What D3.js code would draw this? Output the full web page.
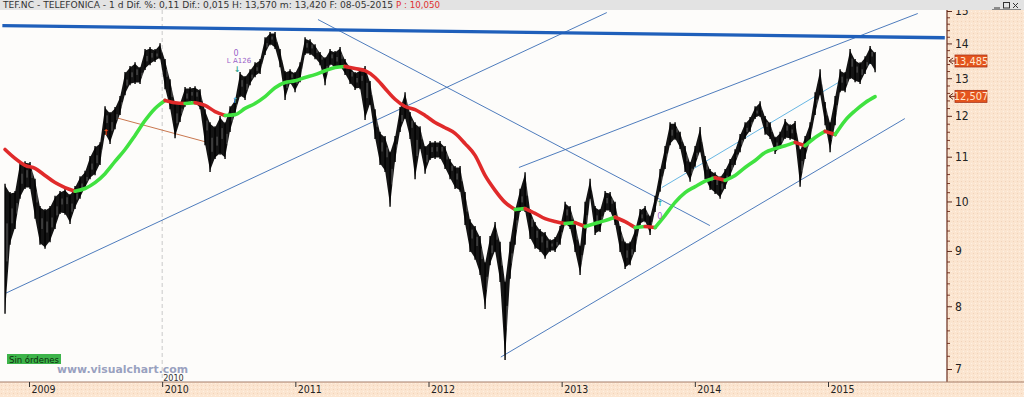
<!DOCTYPE html>
<html>
<head>
<meta charset="utf-8">
<title>TEF.NC - TELEFONICA</title>
<script src="https://cdnjs.cloudflare.com/ajax/libs/d3/7.6.1/d3.min.js"></script>
<style>
  html, body { margin: 0; padding: 0; background: #fdfcfa; overflow: hidden; }
  svg { display: block; }
  .narrow { font-family: 'Liberation Sans Narrow', 'DejaVu Sans Condensed', 'Liberation Sans', sans-serif; }
</style>
</head>
<body>
<svg id="chart" width="1024" height="397"></svg>
<script>
// price samples: one every ~2 weeks (high / low of each stretch)
const sampleStart = 2008.82;
const sampleStep = 0.03755;

const high = [
  10.35, 10.17, 10.19, 10.84, 10.86, 10.84, 10.46, 9.87, 9.81, 9.87,
  10.09, 10.19, 10.24, 10.13, 10.30, 10.52, 10.64, 10.98, 11.22, 11.31,
  12.21, 12.06, 12.19, 12.48, 13.13, 13.30, 13.41, 13.27, 13.79, 13.85,
  13.79, 13.96, 13.50, 12.93, 12.32, 12.32, 12.72, 12.72, 12.74, 12.66,
  12.13, 11.80, 11.70, 11.96, 11.80, 12.21, 12.40, 13.13, 13.02, 13.21,
  13.41, 13.50, 14.14, 14.30, 14.30, 13.79, 13.16, 13.21, 13.13, 13.41,
  14.14, 14.08, 13.93, 13.70, 13.55, 13.79, 13.73, 13.85, 13.50, 13.30,
  13.13, 13.21, 13.30, 12.88, 12.13, 11.56, 11.46, 11.08, 11.46, 12.19,
  12.58, 12.06, 11.80, 11.70, 11.22, 11.34, 11.34, 11.34, 11.22, 10.91,
  10.75, 10.75, 10.17, 9.60, 9.46, 9.26, 8.76, 9.26, 9.54, 9.15,
  8.40, 9.15, 9.81, 10.24, 10.61, 9.81, 9.54, 9.40, 9.34, 9.20,
  9.24, 9.46, 9.96, 9.87, 9.54, 9.07, 9.96, 10.46, 9.87, 9.81,
  10.19, 10.17, 9.96, 9.46, 9.15, 9.15, 9.40, 9.81, 9.87, 9.67,
  10.09, 10.68, 11.22, 11.80, 11.80, 11.56, 11.22, 10.84, 11.22, 11.68,
  10.98, 10.68, 10.61, 10.52, 10.68, 10.91, 11.14, 11.51, 11.80, 11.93,
  12.21, 12.34, 11.96, 11.80, 11.44, 11.56, 11.88, 11.75, 11.83, 11.14,
  11.46, 11.80, 12.58, 13.21, 12.32, 11.80, 12.48, 13.21, 13.13, 13.79,
  13.50, 13.41, 13.58, 13.88, 13.70
];

const low = [
  7.90, 9.15, 9.46, 10.09, 10.30, 10.30, 9.67, 9.15, 9.07, 9.20,
  9.46, 9.77, 9.75, 9.56, 9.87, 10.09, 10.30, 10.52, 10.61, 10.84,
  11.56, 11.34, 11.70, 12.06, 12.58, 12.85, 12.88, 12.88, 13.27, 13.41,
  13.50, 13.58, 12.74, 12.21, 11.48, 11.88, 12.27, 12.40, 12.34, 12.21,
  11.31, 10.68, 10.98, 11.08, 10.98, 11.63, 12.06, 12.53, 12.45, 12.85,
  13.07, 13.16, 13.70, 13.99, 13.88, 13.35, 12.45, 12.88, 12.66, 12.93,
  13.70, 13.70, 13.58, 13.41, 12.85, 13.41, 13.30, 13.35, 13.13, 12.88,
  12.72, 12.74, 11.93, 12.32, 11.46, 10.84, 10.68, 9.92, 10.91, 11.63,
  11.96, 11.46, 10.52, 11.22, 10.64, 10.96, 10.98, 10.98, 10.75, 10.52,
  10.30, 10.24, 9.54, 9.01, 8.86, 8.58, 7.98, 8.76, 9.01, 8.45,
  7.16, 8.51, 9.15, 9.81, 9.81, 9.26, 9.07, 9.01, 8.88, 9.01,
  9.01, 9.15, 9.54, 9.46, 9.01, 8.58, 9.15, 10.09, 9.34, 9.40,
  9.81, 9.81, 9.54, 9.01, 8.69, 8.76, 9.01, 9.54, 9.60, 9.34,
  9.81, 10.24, 10.75, 11.31, 11.44, 11.22, 10.68, 10.46, 10.80, 11.14,
  10.52, 10.28, 10.19, 10.09, 10.30, 10.57, 10.84, 11.14, 11.46, 11.63,
  11.96, 12.01, 11.56, 11.46, 11.10, 11.22, 11.46, 11.44, 11.39, 10.35,
  10.98, 11.39, 12.06, 12.58, 11.80, 11.14, 11.80, 12.66, 12.66, 13.02,
  12.93, 12.88, 13.16, 13.44, 13.21
];

// moving average, every second sample
const maValues = [
  11.17, 10.96, 10.80, 10.73, 10.57, 10.41, 10.30, 10.22, 10.28, 10.41,
  10.61, 10.89, 11.17, 11.51, 11.88, 12.19, 12.40, 12.34, 12.32, 12.34,
  12.27, 12.11, 12.01, 12.03, 12.19, 12.32, 12.50, 12.74, 12.88, 12.93,
  13.02, 13.10, 13.21, 13.30, 13.33, 13.27, 13.21, 13.02, 12.72, 12.43,
  12.24, 12.16, 12.01, 11.83, 11.70, 11.56, 11.31, 11.03, 10.57, 10.24,
  9.98, 9.83, 9.85, 9.75, 9.64, 9.58, 9.54, 9.56, 9.48, 9.54,
  9.60, 9.67, 9.58, 9.46, 9.48, 9.46, 9.71, 9.98, 10.19, 10.32,
  10.44, 10.52, 10.46, 10.57, 10.75, 10.91, 11.10, 11.19, 11.26, 11.34,
  11.26, 11.46, 11.61, 11.53, 11.88, 12.13, 12.34, 12.50
];

const yearTicks = [2009, 2010, 2011, 2012, 2013, 2014, 2015];
const priceTicks = [7, 8, 9, 10, 11, 12, 13, 14, 15];
const lastClose = 13.485;
const lastMa = 12.507;
const markerYear = 2010;

// drawn trend lines: [year, price] pairs
const resistance = [[2008.80, 14.54], [2015.877, 14.17]];
const longSupport = [[2008.82, 8.22], [2013.339, 14.95]];
const downTrend = [[2011.170, 14.73], [2014.113, 9.50]];
const channelTop = [[2012.679, 10.75], [2015.674, 14.92]];
const channelMid = [[2013.752, 10.30], [2015.329, 13.44]];
const channelBottom = [[2012.543, 7.18], [2015.577, 11.93]];
const shortLine = [[2009.646, 11.96], [2010.456, 11.24]];

// signal marks on the chart
const signals = [
  { t: 2009.578, p: 11.51, text: "\u2191", kind: "red" },
  { t: 2010.554, p: 13.64, text: "0", kind: "purple" },
  { t: 2010.577, p: 13.44, text: "L A126", kind: "purple" },
  { t: 2010.562, p: 13.18, text: "\u2193", kind: "teal" },
  { t: 2010.547, p: 12.32, text: "\u2191", kind: "cyan" },
  { t: 2013.737, p: 9.90, text: "\u2191", kind: "teal" },
  { t: 2013.737, p: 9.64, text: "0", kind: "purple" }
];

const W = 1024, H = 397;
const plotR = 947, plotT = 10, plotB = 382;

const svg = d3.select("#chart");
const defs = svg.append("defs");

const pat = defs.append("pattern").attr("id", "peach")
  .attr("width", 4).attr("height", 4).attr("patternUnits", "userSpaceOnUse");
pat.append("rect").attr("width", 4).attr("height", 4).attr("fill", "#fbe5d0");
pat.append("rect").attr("x", 1).attr("y", 1).attr("width", 1).attr("height", 1).attr("fill", "#f2d3b9");
pat.append("rect").attr("x", 3).attr("y", 3).attr("width", 1).attr("height", 1).attr("fill", "#fff1e3");

defs.append("clipPath").attr("id", "plotClip")
  .append("rect").attr("x", 0).attr("y", plotT).attr("width", plotR).attr("height", plotB - plotT);

const x = d3.scaleLinear().domain([2009, 2015]).range([29, 828]);
const y = d3.scaleLog().domain([7, 15]).range([369, 11]);

svg.append("rect").attr("width", W).attr("height", H).attr("fill", "#fdfcfa");
svg.append("rect").attr("x", plotR).attr("y", 0).attr("width", W - plotR).attr("height", H).attr("fill", "url(#peach)");
svg.append("rect").attr("x", 0).attr("y", plotB).attr("width", W).attr("height", H - plotB).attr("fill", "url(#peach)");

const plot = svg.append("g").attr("clip-path", "url(#plotClip)");

// 2010 marker
plot.append("line")
  .attr("x1", x(markerYear)).attr("x2", x(markerYear))
  .attr("y1", plotT).attr("y2", plotB)
  .attr("stroke", "#c9c9c9").attr("stroke-width", 1).attr("stroke-dasharray", "4,3");
plot.append("text").attr("class", "narrow")
  .attr("x", x(markerYear) + 1).attr("y", plotB - 1)
  .attr("font-size", 9).attr("fill", "#333").text(String(markerYear));

const seg = d3.line().x(d => x(d[0])).y(d => y(d[1]));

[longSupport, downTrend, channelTop, channelBottom].forEach(l => {
  plot.append("path").attr("d", seg(l)).attr("fill", "none")
    .attr("stroke", "#3a6db5").attr("stroke-width", 0.9);
});
plot.append("path").attr("d", seg(channelMid)).attr("fill", "none")
  .attr("stroke", "#56aee0").attr("stroke-width", 0.9);
plot.append("path").attr("d", seg(shortLine)).attr("fill", "none")
  .attr("stroke", "#c9774f").attr("stroke-width", 1);

// price bars
const bars = high.map((h, i) => ({ t: sampleStart + i * sampleStep, hi: h, lo: low[i] }));
plot.append("path").datum(bars)
  .attr("d", d3.area().x(d => x(d.t)).y0(d => y(d.lo)).y1(d => y(d.hi)))
  .attr("fill", "#141414");
plot.selectAll("line.bar").data(bars).join("line").attr("class", "bar")
  .attr("x1", d => x(d.t)).attr("x2", d => x(d.t))
  .attr("y1", d => y(d.hi) - 1.5).attr("y2", d => y(d.lo) + 1.5)
  .attr("stroke", "#000").attr("stroke-width", 1.4);
plot.selectAll("line.body").data(bars).join("line").attr("class", "body")
  .attr("x1", d => x(d.t) + 2).attr("x2", d => x(d.t) + 2)
  .attr("y1", d => y(d.hi) + (y(d.lo) - y(d.hi)) * 0.3).attr("y2", d => y(d.hi) + (y(d.lo) - y(d.hi)) * 0.6)
  .attr("stroke", "#fff").attr("stroke-opacity", 0.4).attr("stroke-width", 0.8);

// moving average, red when falling, green when rising
const ma = maValues.map((v, i) => ({ t: sampleStart + 2 * i * sampleStep, v }));
const runs = [];
d3.pairs(ma).forEach(([a, b]) => {
  const up = b.v >= a.v;
  const last = runs[runs.length - 1];
  if (last && last.up === up) last.pts.push(b);
  else runs.push({ up, pts: [a, b] });
});
const maLine = d3.line().curve(d3.curveMonotoneX).x(d => x(d.t)).y(d => y(d.v));
plot.selectAll("path.ma").data(runs).join("path").attr("class", "ma")
  .attr("d", d => maLine(d.pts)).attr("fill", "none")
  .attr("stroke", d => d.up ? "#40e240" : "#e02a2a")
  .attr("stroke-width", 3.6).attr("stroke-linecap", "round");

plot.append("path").attr("d", seg(resistance)).attr("fill", "none")
  .attr("stroke", "#1f5fba").attr("stroke-width", 3.4);

const signalColor = { red: "#f0521e", purple: "#9a5fc8", teal: "#2ea58f", cyan: "#45b2e8" };
plot.selectAll("text.sig").data(signals).join("text").attr("class", "sig")
  .attr("x", d => x(d.t)).attr("y", d => y(d.p))
  .attr("text-anchor", "middle")
  .attr("font-family", "DejaVu Sans, sans-serif")
  .attr("font-size", d => d.text.length > 2 ? 7 : 8)
  .attr("font-weight", d => d.kind === "purple" ? "normal" : "bold")
  .attr("fill", d => signalColor[d.kind])
  .text(d => d.text);

// right price axis
const yAxis = d3.axisRight(y).tickValues(priceTicks).tickSize(5).tickFormat(d3.format("d"));
const gy = svg.append("g").attr("transform", `translate(${plotR},0)`).call(yAxis);
gy.select(".domain").remove();
gy.selectAll(".tick line").attr("stroke", "#5c2a1c");
gy.selectAll(".tick text").attr("class", "narrow").attr("x", 8)
  .attr("font-size", 12).attr("fill", "#222");

const minor = d3.range(7, 15.01, 0.2).filter(v => Math.abs(v - Math.round(v)) > 0.01);
const gm = svg.append("g").attr("transform", `translate(${plotR},0)`)
  .call(d3.axisRight(y).tickValues(minor).tickSize(3).tickFormat(""));
gm.select(".domain").remove();
gm.selectAll(".tick line").attr("stroke", "#7a3a28");

svg.append("line").attr("x1", plotR).attr("x2", plotR).attr("y1", plotT).attr("y2", plotB)
  .attr("stroke", "#6a2a1a").attr("stroke-width", 1.2);
svg.append("line").attr("x1", 0).attr("x2", W).attr("y1", plotB).attr("y2", plotB)
  .attr("stroke", "#a57f6a").attr("stroke-width", 1);

// bottom year axis
const xAxis = d3.axisBottom(x).tickValues(yearTicks).tickSize(5).tickFormat(d3.format("d"));
const gx = svg.append("g").attr("transform", `translate(0,${plotB})`).call(xAxis);
gx.select(".domain").remove();
gx.selectAll(".tick line").attr("stroke", "#333");
gx.selectAll(".tick text").attr("class", "narrow")
  .attr("text-anchor", "start").attr("x", 2).attr("y", 4)
  .attr("font-size", 10.5).attr("fill", "#222");

// last value tags
[[lastClose, "13,485"], [lastMa, "12,507"]].forEach(([v, label]) => {
  const yy = y(v);
  svg.append("path")
    .attr("d", `M${plotR + 2},${yy} l4,-3 M${plotR + 2},${yy} l4,3 M${plotR + 2},${yy} h6`)
    .attr("stroke", "#6a2a1a").attr("fill", "none");
  svg.append("rect").attr("x", 955).attr("y", yy - 6).attr("width", 32).attr("height", 12)
    .attr("fill", "#e4541d").attr("stroke", "#a8351a").attr("stroke-width", 0.8);
  svg.append("text").attr("class", "narrow").attr("x", 971).attr("y", yy + 4)
    .attr("text-anchor", "middle").attr("font-size", 11).attr("fill", "#ffe6cc").text(label);
});

// header strip
svg.append("rect").attr("x", 0).attr("y", 0).attr("width", W).attr("height", plotT).attr("fill", "#e3e3e3");
svg.append("text").attr("class", "narrow").attr("x", 3).attr("y", 8)
  .attr("font-size", 9).attr("fill", "#333")
  .attr("textLength", 390).attr("lengthAdjust", "spacingAndGlyphs")
  .text("TEF.NC - TELEFONICA -  1 d Dif. %: 0,11 Dif.: 0,015 H: 13,570 m: 13,420 F: 08-05-2015");
svg.append("text").attr("class", "narrow").attr("x", 396).attr("y", 8)
  .attr("font-size", 9).attr("fill", "#e03030")
  .attr("textLength", 44).attr("lengthAdjust", "spacingAndGlyphs")
  .text("P : 10,050");
const btn = svg.append("g").attr("stroke", "#333").attr("fill", "none").attr("stroke-width", 1);
btn.append("line").attr("x1", 994).attr("x2", 1000).attr("y1", 8).attr("y2", 8);
btn.append("rect").attr("x", 1003.5).attr("y", 2.5).attr("width", 6).attr("height", 5.5);
btn.append("path").attr("d", "M1013,3 l5,5 M1018,3 l-5,5");
btn.append("line").attr("x1", 992).attr("x2", 1021).attr("y1", 9.5).attr("y2", 9.5).attr("stroke", "#888");

// status box and watermark
svg.append("rect").attr("x", 7).attr("y", 354).attr("width", 54).attr("height", 10).attr("fill", "#3db44a");
svg.append("text").attr("class", "narrow").attr("x", 9).attr("y", 362.5)
  .attr("font-size", 9).attr("fill", "#0d2a0d")
  .attr("textLength", 50).attr("lengthAdjust", "spacingAndGlyphs").text("Sin órdenes");
svg.append("text").attr("x", 57).attr("y", 373)
  .attr("font-family", "DejaVu Sans, Verdana, sans-serif").attr("font-weight", "bold")
  .attr("font-size", 11).attr("fill", "#8c95b8").attr("fill-opacity", 0.9)
  .attr("textLength", 131).attr("lengthAdjust", "spacingAndGlyphs").text("www.visualchart.com");
</script>
</body>
</html>
